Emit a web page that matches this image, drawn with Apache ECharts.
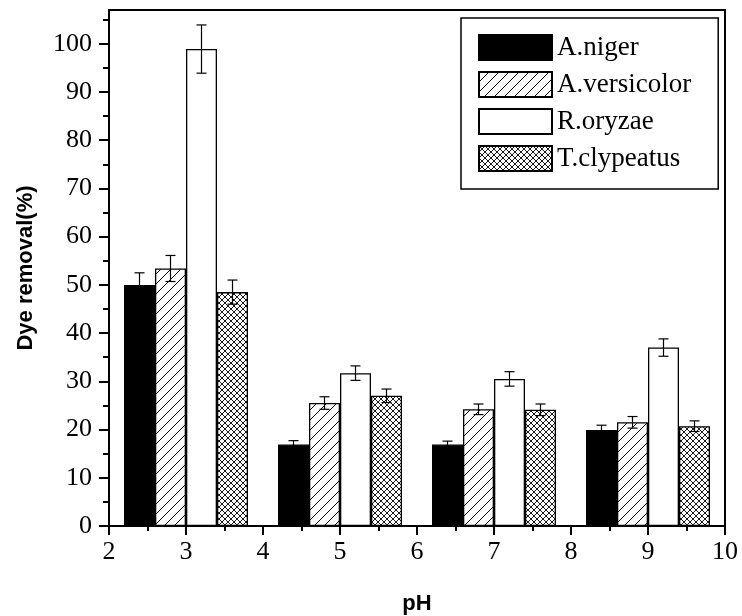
<!DOCTYPE html>
<html>
<head>
<meta charset="utf-8">
<script src="https://cdn.jsdelivr.net/npm/echarts@6/dist/echarts.min.js"></script>
<style>html,body{margin:0;padding:0;background:#fff}#c{width:742px;height:616px}</style>
</head>
<body>
<div id="c"></div>
<script>
// ---- data ----
const pH = [3, 5, 7, 9];
const seriesNames = ['A.niger', 'A.versicolor', 'R.oryzae', 'T.clypeatus'];
const nigerVals = [50.0, 16.9, 16.9, 19.9];
const nigerErr = [2.5, 0.8, 0.7, 1.0];
const versicolorVals = [53.4, 25.5, 24.2, 21.5];
const versicolorErr = [2.7, 1.3, 1.1, 1.2];
const oryzaeVals = [98.9, 31.7, 30.5, 37.0];
const oryzaeErr = [5.0, 1.5, 1.5, 1.8];
const clypeatusVals = [48.5, 27.0, 24.1, 20.7];
const clypeatusErr = [2.5, 1.4, 1.2, 1.1];
const yTickLabels = [0, 10, 20, 30, 40, 50, 60, 70, 80, 90, 100];
const yMinorTicks = [5, 15, 25, 35, 45, 55, 65, 75, 85, 95, 105];

const allVals = [nigerVals, versicolorVals, oryzaeVals, clypeatusVals];
const allErr = [nigerErr, versicolorErr, oryzaeErr, clypeatusErr];

// ---- patterns ----
function makeHatch() {
  const c = document.createElement('canvas');
  c.width = 10; c.height = 10;
  const g = c.getContext('2d');
  g.fillStyle = '#fff'; g.fillRect(0, 0, 10, 10);
  g.strokeStyle = '#000'; g.lineWidth = 1;
  g.beginPath();
  g.moveTo(0, 10); g.lineTo(10, 0);
  g.moveTo(-5, 5); g.lineTo(5, -5);
  g.moveTo(5, 15); g.lineTo(15, 5);
  g.stroke();
  return c;
}
function makeCross() {
  const c = document.createElement('canvas');
  c.width = 6; c.height = 6;
  const g = c.getContext('2d');
  g.fillStyle = '#fff'; g.fillRect(0, 0, 6, 6);
  g.strokeStyle = '#000'; g.lineWidth = 0.9;
  g.beginPath();
  g.moveTo(0, 6); g.lineTo(6, 0);
  g.moveTo(-3, 3); g.lineTo(3, -3);
  g.moveTo(3, 9); g.lineTo(9, 3);
  g.moveTo(0, 0); g.lineTo(6, 6);
  g.moveTo(-3, 3); g.lineTo(3, 9);
  g.moveTo(3, -3); g.lineTo(9, 3);
  g.stroke();
  return c;
}
const fills = [
  '#000',
  { image: makeHatch(), repeat: 'repeat' },
  '#fff',
  { image: makeCross(), repeat: 'repeat' }
];

const BAR_W = 31;
const chart = echarts.init(document.getElementById('c'));

const barSeries = seriesNames.map((name, i) => ({
  name: name,
  type: 'bar',
  barWidth: BAR_W,
  barGap: '0%',
  data: pH.map((x, j) => [x, allVals[i][j]]),
  itemStyle: { color: fills[i], borderColor: '#000', borderWidth: 1.3 },
  z: 2
}));

const errData = [];
seriesNames.forEach((n, i) => {
  pH.forEach((x, j) => {
    errData.push([x, allVals[i][j] - allErr[i][j], allVals[i][j] + allErr[i][j], i]);
  });
});

const errSeries = {
  type: 'custom',
  z: 5,
  silent: true,
  data: errData,
  encode: { x: 0, y: [1, 2] },
  renderItem: function (params, api) {
    const idx = api.value(3);
    const off = (idx - 1.5) * BAR_W;
    const lo = api.coord([api.value(0), api.value(1)]);
    const hi = api.coord([api.value(0), api.value(2)]);
    const x = lo[0] + off;
    const cap = 5;
    const st = { stroke: '#000', lineWidth: 1.2 };
    return {
      type: 'group',
      children: [
        { type: 'line', shape: { x1: x, y1: lo[1], x2: x, y2: hi[1] }, style: st },
        { type: 'line', shape: { x1: x - cap, y1: lo[1], x2: x + cap, y2: lo[1] }, style: st },
        { type: 'line', shape: { x1: x - cap, y1: hi[1], x2: x + cap, y2: hi[1] }, style: st }
      ]
    };
  }
};

const serif = 'Liberation Serif, Times New Roman, serif';
const sans = 'Liberation Sans, Arial, sans-serif';

chart.setOption({
  animation: false,
  backgroundColor: '#fff',
  grid: {
    left: 109, top: 10, right: 17, bottom: 90,
    outerBoundsMode: 'none',
    containLabel: false,
    show: true, borderColor: '#000', borderWidth: 2, backgroundColor: 'transparent'
  },
  legend: {
    data: seriesNames.map(n => ({ name: n, icon: 'rect' })),
    orient: 'vertical',
    left: 461, top: 18,
    padding: [16, 27, 17, 17],
    itemGap: 10,
    itemWidth: 73, itemHeight: 25,
    borderColor: '#000', borderWidth: 1.5,
    textStyle: { fontFamily: serif, fontSize: 27, color: '#000' },
    selectedMode: false
  },
  xAxis: {
    type: 'value',
    min: 2, max: 10, interval: 1,
    name: 'pH', nameLocation: 'middle', nameGap: 67,
    nameTextStyle: { fontFamily: sans, fontWeight: 'bold', fontSize: 22, color: '#000' },
    axisLine: { show: true, onZero: false, lineStyle: { color: '#000', width: 2 } },
    axisTick: { show: true, length: 9, lineStyle: { color: '#000', width: 2 } },
    minorTick: { show: true, splitNumber: 2, length: 5, lineStyle: { color: '#000', width: 2 } },
    axisLabel: { fontFamily: serif, fontSize: 26, color: '#000', margin: 13 },
    splitLine: { show: false }
  },
  yAxis: [{
    type: 'value',
    min: 0, max: 107,
    interval: 10,
    name: 'Dye removal(%)', nameLocation: 'middle', nameGap: 72,
    nameTextStyle: { fontFamily: sans, fontWeight: 'bold', fontSize: 22, color: '#000' },
    axisLine: { show: true, onZero: false, lineStyle: { color: '#000', width: 2 } },
    axisTick: { show: true, length: 10, customValues: yTickLabels, lineStyle: { color: '#000', width: 2 } },
    axisLabel: { fontFamily: serif, fontSize: 26, color: '#000', margin: 17, customValues: yTickLabels,
      formatter: v => (v % 10 === 0 && v <= 100) ? String(v) : '' },
    splitLine: { show: false }
  }, {
    type: 'value',
    min: 0, max: 107,
    position: 'left',
    axisLine: { show: false },
    axisTick: { show: true, length: 6, customValues: yMinorTicks, lineStyle: { color: '#000', width: 2 } },
    axisLabel: { show: false },
    splitLine: { show: false }
  }],
  series: barSeries.concat([errSeries])
});
</script>
</body>
</html>
